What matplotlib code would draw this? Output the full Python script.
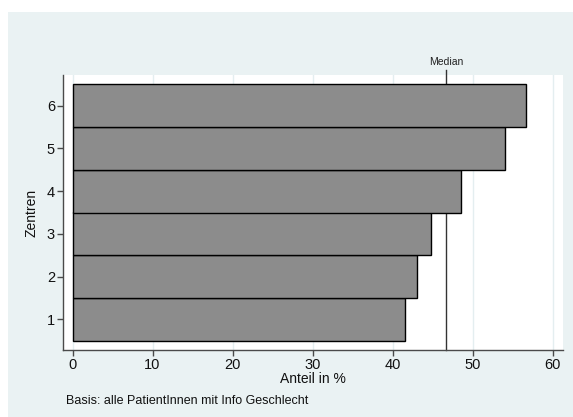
import numpy as np
import matplotlib
matplotlib.use("Agg")
import matplotlib.pyplot as plt
from matplotlib.patches import Rectangle

plt.rcParams['font.family'] = ['Liberation Sans', 'DejaVu Sans']

zentren = [1, 2, 3, 4, 5, 6]
anteil = [41.5, 43.05, 44.8, 48.55, 54.1, 56.7]
median = float(np.median(anteil))
xticks = [0, 10, 20, 30, 40, 50, 60]

bg = '#eaf2f3'
axcol = '#4a4a4a'

fig = plt.figure(figsize=(5.73, 4.17), dpi=100)
fig.patch.set_facecolor('white')
fig.patches.append(Rectangle((8 / 573, 0), 1 - 8 / 573, 1 - 12 / 417,
                             transform=fig.transFigure, facecolor=bg,
                             edgecolor='none', zorder=-10))

ax = fig.add_axes([63.3 / 573, 1 - 350 / 417, (563 - 63.3) / 573, (350 - 75) / 417])
ax.set_facecolor('white')

ax.barh(zentren, anteil, height=1.0, color='#8c8c8c', edgecolor='black',
        linewidth=1.0, zorder=3)

# median line sits behind the bars
ax.plot([median, median], [0.28, 6.84], color='#333333', lw=1.0,
        clip_on=False, zorder=2)
ax.text(median, 6.9, 'Median', ha='center', va='bottom', fontsize=7.5,
        color='#222222')

ax.set_xlim(-1.15, 61.3)
ax.set_ylim(0.28, 6.72)
ax.set_xticks(xticks)
ax.set_yticks(zentren)
ax.grid(axis='x', color='#e4eef0', lw=1.0, zorder=0)
ax.set_axisbelow(True)

for s in ['top', 'right']:
    ax.spines[s].set_visible(False)
for s in ['left', 'bottom']:
    ax.spines[s].set_color(axcol)
    ax.spines[s].set_linewidth(1.0)

ax.tick_params(axis='both', direction='out', length=4, width=1.0,
               color=axcol, labelsize=10.5, labelcolor='#111111', pad=2)

ax.set_xlabel('Anteil in %', fontsize=10, labelpad=0, color='#111111')
ax.set_ylabel('Zentren', fontsize=10, labelpad=6, color='#111111')

fig.text(66 / 573, 1 - 401 / 417, 'Basis: alle PatientInnen mit Info Geschlecht',
         fontsize=9, va='center', ha='left', color='#111111')

fig.savefig('out.png', dpi=100, facecolor=fig.get_facecolor())
